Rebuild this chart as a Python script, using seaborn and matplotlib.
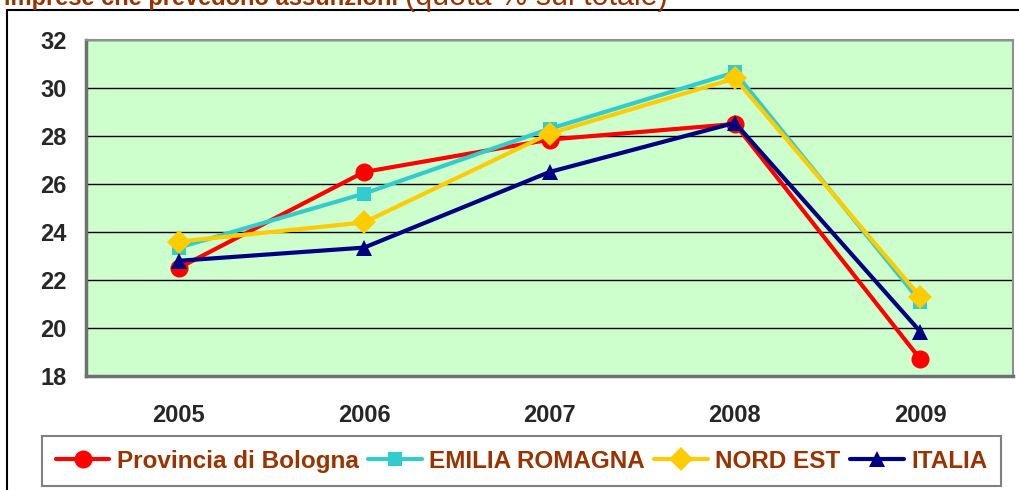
import pandas as pd
import matplotlib
matplotlib.use("Agg")
import matplotlib.pyplot as plt
import seaborn as sns
from matplotlib.lines import Line2D
from matplotlib.ticker import FixedLocator

# ===============================================
# Dati (quota % imprese che prevedono assunzioni)
# ===============================================
anni = ["2005", "2006", "2007", "2008", "2009"]
serie = ["Provincia di Bologna", "EMILIA ROMAGNA", "NORD EST", "ITALIA"]
bologna = [22.5, 26.5, 27.85, 28.5, 18.7]
emilia = [23.35, 25.6, 28.3, 30.65, 21.1]
nord_est = [23.6, 24.4, 28.1, 30.4, 21.3]
italia = [22.8, 23.35, 26.5, 28.55, 19.85]
y_ticks = [18, 20, 22, 24, 26, 28, 30, 32]

valori = [bologna, emilia, nord_est, italia]
colori = ["#FF0000", "#33CCCC", "#FFCC00", "#000080"]
marker = ["o", "s", "D", "^"]
msize = [13, 10, 12, 11]

df = pd.DataFrame({
    "anno": anni * len(serie),
    "serie": [s for s in serie for _ in anni],
    "valore": [v for vals in valori for v in vals],
})

# ===============================================
# Grafico
# ===============================================
sns.set_style("white")
plt.rcParams["font.family"] = ["Liberation Sans", "DejaVu Sans"]
plt.rcParams["font.weight"] = "bold"

fig = plt.figure(figsize=(10.2, 4.9), dpi=100)
ax = fig.add_axes([86 / 1020, 1 - 376 / 490, 927 / 1020, 336 / 490])
ax.set_facecolor("#CCFFCC")

for s, c, m, ms in zip(serie, colori, marker, msize):
    sns.lineplot(data=df[df["serie"] == s], x="anno", y="valore", ax=ax,
                 color=c, marker=m, markersize=ms, markeredgewidth=0,
                 linewidth=3, label=s, sort=False, zorder=3)

ax.set_xlim(-0.5, 4.5)
ax.set_ylim(18, 32)
ax.set_yticks(y_ticks)
ax.set_yticklabels([str(t) for t in y_ticks], fontsize=17, fontweight="bold")
ax.set_xticks(range(len(anni)))
ax.set_xticklabels(anni, fontsize=17, fontweight="bold")
ax.xaxis.set_minor_locator(FixedLocator([i - 0.5 for i in range(len(anni) + 1)]))
ax.tick_params(axis="x", which="major", length=0, pad=20)
ax.tick_params(axis="x", which="minor", length=8, width=1.2, color="#404040", direction="out")
ax.tick_params(axis="y", length=8, width=1.2, color="#404040", direction="out", pad=6)
ax.set_xlabel("")
ax.set_ylabel("")
ax.grid(axis="y", color="black", linewidth=1)
ax.set_axisbelow(True)
for side in ["left", "bottom"]:
    ax.spines[side].set_color("#707070")
    ax.spines[side].set_linewidth(2.5)
for side in ["top", "right"]:
    ax.spines[side].set_color("#909090")
    ax.spines[side].set_linewidth(1.5)

handles, labels = ax.get_legend_handles_labels()
ax.get_legend().remove()
leg = fig.legend(handles, labels, ncol=4, loc="center",
                 bbox_to_anchor=(521.5 / 1020, 1 - 461 / 490),
                 prop={"size": 17.5, "weight": "bold"}, frameon=True,
                 fancybox=False, shadow=False, handlelength=2.2,
                 handletextpad=0.3, columnspacing=0.4, borderpad=0.55,
                 borderaxespad=0)
leg.get_frame().set_edgecolor("#606060")
leg.get_frame().set_linewidth(1.5)
for t in leg.get_texts():
    t.set_color("#993300")

# bordo esterno del grafico
fig.add_artist(Line2D([7 / 1020, 7 / 1020], [0, 1 - 10 / 490], color="black", lw=1.5))
fig.add_artist(Line2D([7 / 1020, 1], [1 - 10 / 490, 1 - 10 / 490], color="black", lw=1.5))

# titolo (tagliato in alto)
t1 = fig.text(4 / 1020, 1 - 5 / 490, "imprese che prevedono assunzioni ",
              fontsize=17, fontweight="bold", color="#993300", va="baseline")
fig.canvas.draw()
bb = t1.get_window_extent()
fig.text(bb.x1 / 1020, 1 - 5 / 490, "(quota % sul totale)",
         fontsize=22, fontweight="normal", color="#993300", va="baseline")

fig.savefig("out.png", dpi=100)
